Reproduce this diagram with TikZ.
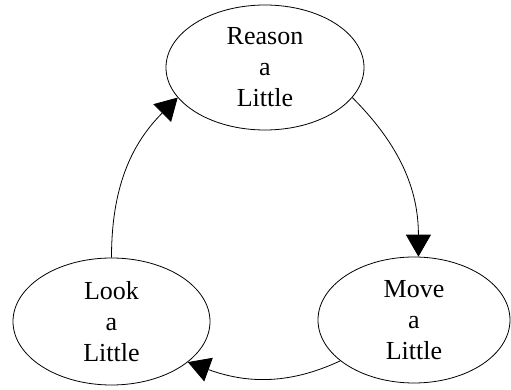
\documentclass[tikz,border=0pt]{standalone}
\usepackage{fontspec}
\setmainfont{Liberation Serif}
\usetikzlibrary{shapes.geometric, arrows.meta}
\tikzset{
    state/.style={ellipse, draw=black, inner sep=0pt, align=center, font=\fontsize{13}{15.5}\selectfont},
    arrow/.style={-{Triangle[length=11pt, width=12.5pt]}}
}
\begin{document}
\begin{tikzpicture}[x=0.5pt, y=-0.5pt]
    \useasboundingbox (0,0) rectangle (511,390);
    % the three states of the loop
    \node (reason) [state, minimum width=99pt, minimum height=62.5pt] at (265,67.5) {Reason\\a\\Little};
    \node (look) [state, minimum width=98.5pt, minimum height=63.5pt] at (111.5,321.5) {Look\\a\\Little};
    \node (move) [state, minimum width=96pt, minimum height=63pt] at (414,320) {Move\\a\\Little};

    % the loop itself
    \draw [arrow] (reason.-19) to[out=-45, in=90] (move.86);
    \draw [arrow] (move.209) to[out=205, in=-20] (look.-28);
    \draw [arrow] (look.90) to[out=90, in=225] (reason.199);
\end{tikzpicture}
\end{document}
